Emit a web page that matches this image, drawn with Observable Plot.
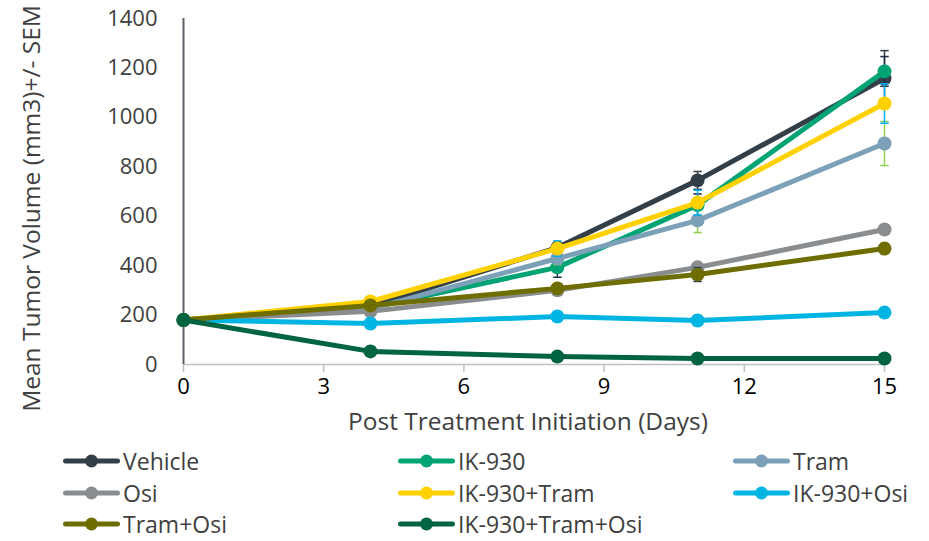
<!DOCTYPE html>
<html>
<head>
<meta charset="utf-8">
<script src="https://cdn.jsdelivr.net/npm/d3@7"></script>
<script src="https://cdn.jsdelivr.net/npm/@observablehq/plot@0.6"></script>
<style>
  body { margin: 0; background: white; font-family: "Open Sans", sans-serif; overflow: hidden; }
  #wrap { width: 929px; }
  #chart svg { display: block; }
  #legend { position: relative; width: 929px; height: 100px; }
  .item { position: absolute; display: flex; align-items: center; font-size: 23px; color: #404040; height: 26px; line-height: 26px; }
  .item svg { margin-right: 3px; }
</style>
</head>
<body>
<div id="wrap">
  <div id="chart"></div>
  <div id="legend"></div>
</div>
<script>
const days = [0, 4, 8, 11, 15];
const xTicks = [0, 3, 6, 9, 12, 15];
const yTicks = [0, 200, 400, 600, 800, 1000, 1200, 1400];
const seriesNames = ["Vehicle", "IK-930", "Tram", "Osi", "IK-930+Tram", "IK-930+Osi", "Tram+Osi", "IK-930+Tram+Osi"];
const seriesColors = ["#333F48", "#00A474", "#7BA0B8", "#8A8D8F", "#FFD100", "#00B5E2", "#6E6E00", "#006341"];
const errColors = ["#333F48", "#1F2A44", "#92D050", "#8A8D8F", "#00B0F0", "#1F2A44", "#203864", "#A5A5A5"];

const vehicle        = [180, 235, 473, 745, 1157];
const ik930          = [180, 230, 393, 645, 1186];
const tram           = [180, 225, 429, 583, 894];
const osi            = [180, 215, 300, 393, 546];
const ik930Tram      = [180, 255, 469, 655, 1056];
const ik930Osi       = [180, 166, 194, 178, 210];
const tramOsi        = [180, 239, 308, 364, 469];
const ik930TramOsi   = [180, 53, 32, 24, 24];

const vehicleSem      = [0, 10, 20, 36, 113];
const ik930Sem        = [0, 10, 40, 45, 60];
const tramSem         = [0, 10, 25, 49, 89];
const osiSem          = [0, 8, 12, 15, 15];
const ik930TramSem    = [0, 10, 31, 50, 80];
const ik930OsiSem     = [0, 6, 8, 8, 10];
const tramOsiSem      = [0, 10, 15, 28, 20];
const ik930TramOsiSem = [0, 4, 3, 3, 3];

const values = [vehicle, ik930, tram, osi, ik930Tram, ik930Osi, tramOsi, ik930TramOsi];
const sems = [vehicleSem, ik930Sem, tramSem, osiSem, ik930TramSem, ik930OsiSem, tramOsiSem, ik930TramOsiSem];

const rows = seriesNames.map((name, i) => days.map((d, j) => ({
  series: name, day: d, value: values[i][j], sem: sems[i][j],
  color: seriesColors[i], ecolor: errColors[i]
})));

const capHalf = 0.09;
const seriesMarks = rows.flatMap((data) => {
  const eb = data.filter(d => d.sem > 0);
  return [
    Plot.ruleX(eb, {x: "day", y1: d => d.value - d.sem, y2: d => d.value + d.sem, stroke: "ecolor", strokeWidth: 1.5}),
    Plot.link(eb, {x1: d => d.day - capHalf, x2: d => d.day + capHalf, y1: d => d.value + d.sem, y2: d => d.value + d.sem, stroke: "ecolor", strokeWidth: 1.5}),
    Plot.link(eb, {x1: d => d.day - capHalf, x2: d => d.day + capHalf, y1: d => d.value - d.sem, y2: d => d.value - d.sem, stroke: "ecolor", strokeWidth: 1.5}),
    Plot.line(data, {x: "day", y: "value", stroke: "color", strokeWidth: 5, strokeLinejoin: "round"}),
    Plot.dot(data, {x: "day", y: "value", fill: "color", r: 7, stroke: "none"})
  ];
});

const chart = Plot.plot({
  width: 929,
  height: 440,
  marginLeft: 183,
  marginRight: 45,
  marginTop: 18,
  marginBottom: 76,
  x: {domain: [0, 15]},
  y: {domain: [0, 1400]},
  style: {fontFamily: "Open Sans, sans-serif", fontSize: "22px", background: "white", color: "#404040"},
  marks: [
    Plot.ruleY([0], {stroke: "#BFBFBF", strokeWidth: 1.5}),
    Plot.axisX(xTicks, {tickSize: 8, stroke: "#BFBFBF", strokeWidth: 1.5, tickPadding: 6, fill: "#000", fontSize: 22, label: null}),
    Plot.axisY(yTicks, {tickSize: 0, tickPadding: 26, fill: "#404040", fontSize: 22, label: null, tickFormat: d => String(d)}),
    Plot.ruleX([0], {stroke: "#5A6168", strokeWidth: 2, y1: 0, y2: 1400}),
    ...seriesMarks,
    Plot.text(["Mean Tumor Volume (mm3)+/- SEM"], {frameAnchor: "left", textAnchor: "middle", lineAnchor: "middle", rotate: -90, dx: -151, dy: 17, fontSize: 24.5, fill: "#404040"}),
    Plot.text(["Post Treatment Initiation (Days)"], {frameAnchor: "bottom", lineAnchor: "middle", dy: 58, dx: -6, fontSize: 24.5, fill: "#404040"})
  ]
});
document.getElementById("chart").appendChild(chart);

// legend
const colLefts = [63, 398, 733];
const rowTops = [8, 40, 71];
const legend = document.getElementById("legend");
seriesNames.forEach((name, i) => {
  const col = i % 3, row = Math.floor(i / 3);
  const item = document.createElement("div");
  item.className = "item";
  item.style.left = colLefts[col] + "px";
  item.style.top = rowTops[row] + "px";
  item.innerHTML = `<svg width="57" height="16"><line x1="2.5" y1="8" x2="54.5" y2="8" stroke="${seriesColors[i]}" stroke-width="5" stroke-linecap="round"/><circle cx="28.5" cy="8" r="6.5" fill="${seriesColors[i]}"/></svg><span>${name}</span>`;
  legend.appendChild(item);
});
</script>
</body>
</html>
